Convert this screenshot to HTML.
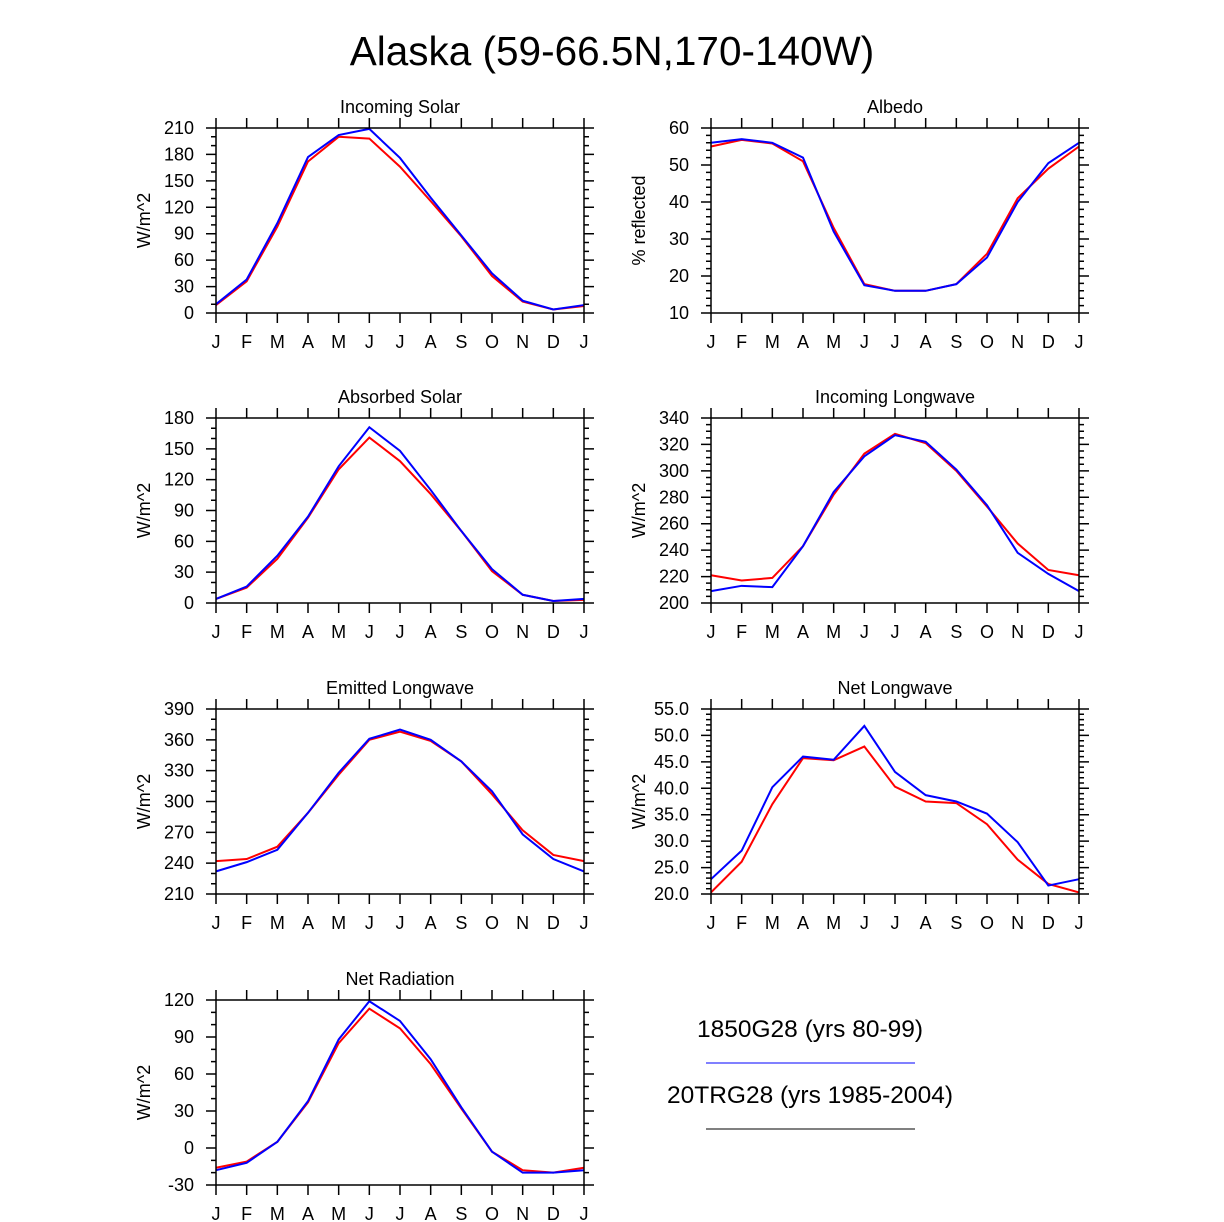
<!DOCTYPE html>
<html><head><meta charset="utf-8"><style>
body{margin:0;background:#fff}
svg{display:block;font-family:"Liberation Sans",sans-serif}
</style></head><body>
<svg id="s" width="1224" height="1222" viewBox="0 0 1224 1222">
<text x="612" y="65" font-size="40.5" text-anchor="middle">Alaska (59-66.5N,170-140W)</text>
<text x="810" y="1037" font-size="24.5" text-anchor="middle">1850G28 (yrs 80-99)</text>
<line x1="706" y1="1063" x2="915" y2="1063" stroke="#00f" stroke-width="1"/>
<text x="810" y="1103" font-size="24.5" text-anchor="middle">20TRG28 (yrs 1985-2004)</text>
<line x1="706" y1="1129" x2="915" y2="1129" stroke="#000" stroke-width="1"/>
</svg>
<script>
const months=["J","F","M","A","M","J","J","A","S","O","N","D","J"];
const incSolarBlue=[10,38,102,177,202,209,176,131,88,45,14,4,9];
const incSolarRed=[9,36,98,172,200,198,166,127,87,42,13,4,8];
const albedoBlue=[56,57,56,52,32,17.5,16,16,17.8,25,40,50.5,56];
const albedoRed=[55,56.8,55.8,51,33,17.8,16,16,17.8,26,41,49,55];
const absSolarBlue=[4,16,46,84,133,171,148,110,70,33,8,2,4];
const absSolarRed=[4,15,43,83,130,161,138,106,70,31,8,2,3];
const incLWBlue=[209,213,212,243,284,311,327,322,301,274,238,222,209];
const incLWRed=[221,217,219,243,282,313,328,321,300,273,245,225,221];
const emitLWBlue=[232,241,253,289,328,361,370,360,339,310,268,244,232];
const emitLWRed=[242,244,256,289,326,360,368,359,339,307,272,248,242];
const netLWBlue=[22.8,28.2,40.2,46,45.4,51.8,43.1,38.7,37.5,35.2,29.8,21.6,22.8];
const netLWRed=[20.3,26.1,37,45.7,45.3,47.9,40.3,37.5,37.2,33.2,26.5,21.9,20.3];
const netRadBlue=[-18,-12,5,38,88,119,103,72,33,-3,-20,-20,-18];
const netRadRed=[-16,-11,5,37,85,113,97,68,32,-3,-18,-20,-16];

const NS="http://www.w3.org/2000/svg";
const svg=document.getElementById('s');
function el(t,a,p){const e=document.createElementNS(NS,t);for(const k in a)e.setAttribute(k,a[k]);(p||svg).appendChild(e);return e;}
const panels=[
 {id:"incoming-solar",title:"Incoming Solar",yl:"W/m^2",x0:216,y0:128,min:0,max:210,step:30,minor:10,dec:0,b:incSolarBlue,r:incSolarRed},
 {id:"albedo",title:"Albedo",yl:"% reflected",x0:711,y0:128,min:10,max:60,step:10,minor:2,dec:0,b:albedoBlue,r:albedoRed},
 {id:"absorbed-solar",title:"Absorbed Solar",yl:"W/m^2",x0:216,y0:418,min:0,max:180,step:30,minor:10,dec:0,b:absSolarBlue,r:absSolarRed},
 {id:"incoming-longwave",title:"Incoming Longwave",yl:"W/m^2",x0:711,y0:418,min:200,max:340,step:20,minor:5,dec:0,b:incLWBlue,r:incLWRed},
 {id:"emitted-longwave",title:"Emitted Longwave",yl:"W/m^2",x0:216,y0:709,min:210,max:390,step:30,minor:10,dec:0,b:emitLWBlue,r:emitLWRed},
 {id:"net-longwave",title:"Net Longwave",yl:"W/m^2",x0:711,y0:709,min:20,max:55,step:5,minor:1,dec:1,b:netLWBlue,r:netLWRed},
 {id:"net-radiation",title:"Net Radiation",yl:"W/m^2",x0:216,y0:1000,min:-30,max:120,step:30,minor:10,dec:0,b:netRadBlue,r:netRadRed}
];
const W=368,H=185;
panels.forEach(p=>{
 const g=el('g',{});
 
 
 const xs=i=>p.x0+i*W/12;
 const ys=v=>p.y0+H-(v-p.min)/(p.max-p.min)*H;
 const t=el('text',{x:p.x0+W/2,y:p.y0-15,'font-size':18,'text-anchor':'middle'},g);t.textContent=p.title;
 
 
 const yt=el('text',{x:0,y:0,'font-size':18,'text-anchor':'middle',transform:`translate(${p.x0-66},${p.y0+H/2}) rotate(-90)`},g);yt.textContent=p.yl;
 
 
 let d="";
 for(let i=0;i<13;i++){const x=xs(i);d+=`M${x} ${p.y0}v-10M${x} ${p.y0+H}v10`;
  const l=el('text',{x:x,y:p.y0+H+35,'font-size':18,'text-anchor':'middle'},g);l.textContent=months[i];
  
  }
 const nm=Math.round((p.max-p.min)/p.minor);
 for(let k=0;k<=nm;k++){const v=p.min+k*p.minor;const y=ys(v);
  const major=Math.abs(((v-p.min)/p.step)-Math.round((v-p.min)/p.step))<1e-6;
  const len=major?10:5;d+=`M${p.x0} ${y}h-${len}M${p.x0+W} ${y}h${len}`;
  if(major){const l=el('text',{x:p.x0-22,y:y+6,'font-size':18,'text-anchor':'end'},g);l.textContent=v.toFixed(p.dec);
   
   }}
 const tk=el('path',{d:d,stroke:'#000','stroke-width':1.5,fill:'none'},g);
 
 
 [[p.r,'#f00','red'],[p.b,'#00f','blue']].forEach(([arr,c,n])=>{
  const pl=el('polyline',{points:arr.map((v,i)=>xs(i)+','+ys(v)).join(' '),stroke:c,'stroke-width':2,fill:'none'},g);
  
  
 });
 const fr=el('rect',{x:p.x0,y:p.y0,width:W,height:H,fill:'none',stroke:'#000','stroke-width':1.5},g);
 
 
});
</script>
</body></html>
